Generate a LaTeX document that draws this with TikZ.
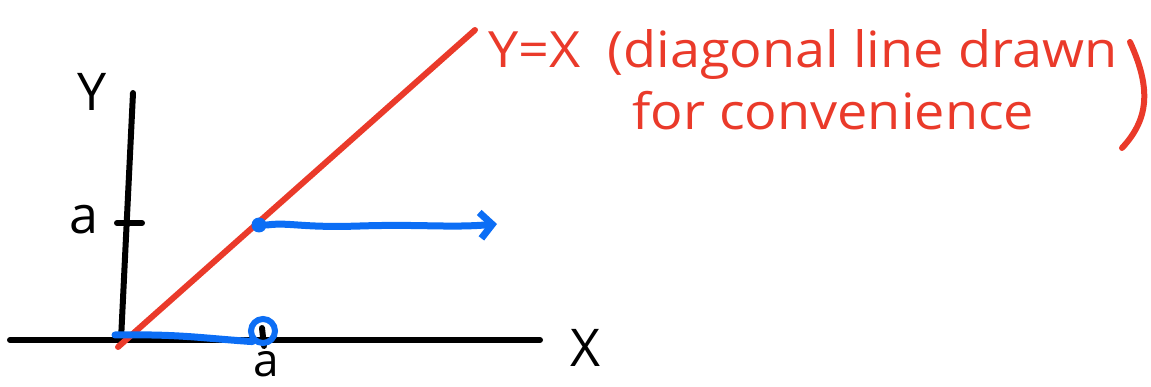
\documentclass[tikz,border=0pt]{standalone}
\usepackage{fontspec}
\setmainfont{Open Sans}
\usetikzlibrary{arrows.meta}
\definecolor{penred}{RGB}{234,58,42}
\definecolor{penblue}{RGB}{12,110,245}
\begin{document}
\begin{tikzpicture}[x=1pt,y=-1pt,
  axis/.style={line width=6pt,line cap=round,black},
  redpen/.style={line width=6pt,line cap=round,penred},
  bluepen/.style={line width=7pt,line cap=round,penblue},
  blacklbl/.style={font=\fontsize{52}{58}\selectfont,inner sep=0pt},
  redlbl/.style={font=\fontsize{50}{56}\selectfont,text=penred,inner sep=0pt,xscale=1.08}]
\useasboundingbox (0,0) rectangle (1151,387);
% axes
\coordinate (xl) at (10,340); \coordinate (xr) at (540,340);
\coordinate (yb) at (121,340); \coordinate (yt) at (133,93);
\draw[axis] (xl) -- (xr);
\draw[axis] (yb) -- (yt);
\coordinate (tk1) at (117,223); \coordinate (tk2) at (142,223);
\draw[axis] (tk1) -- (tk2);
\coordinate (xk1) at (262,328); \coordinate (xk2) at (264,346);
\draw[axis] (xk1) -- (xk2);
% labels
\node[blacklbl] (Y) at (92,92) {Y};
\node[blacklbl] (X) at (585,348) {X};
\node[blacklbl] (aY) at (84,220) {a};
\node[blacklbl,font=\fontsize{46}{52}\selectfont] (aX) at (266,364) {a};
% diagonal
\coordinate (o) at (118,347); \coordinate (d) at (475,30);
\draw[redpen] (o) -- (d);
% blue
\node[circle,fill=penblue,inner sep=0pt,minimum size=15pt] (p) at (259,225) {};
\coordinate (ae) at (497,224);
\draw[bluepen,-{Straight Barb[length=12pt,width=26pt,line width=7pt]}] (p.east) .. controls (290,222) and (300,228) .. (360,226) .. controls (420,224) and (450,228) .. (ae);
\node[circle,draw=penblue,line width=6pt,inner sep=0pt,minimum width=18pt,minimum height=24pt] (c) at (263,331) {};
\coordinate (b0) at (115,335);
\draw[bluepen] (b0) .. controls (180,334) and (200,338) .. (c.south west);
% red text
\node[redlbl,anchor=base west] (t1) at (488,68) {Y=X\hspace{0.5em}(diagonal line drawn};
\node[redlbl,anchor=base west] (t2) at (632,130) {for convenience};
\coordinate (pa) at (1130,42); \coordinate (pb) at (1122,148);
\draw[redpen] (pa) .. controls (1152,90) and (1148,120) .. (pb);
\end{tikzpicture}
\end{document}
